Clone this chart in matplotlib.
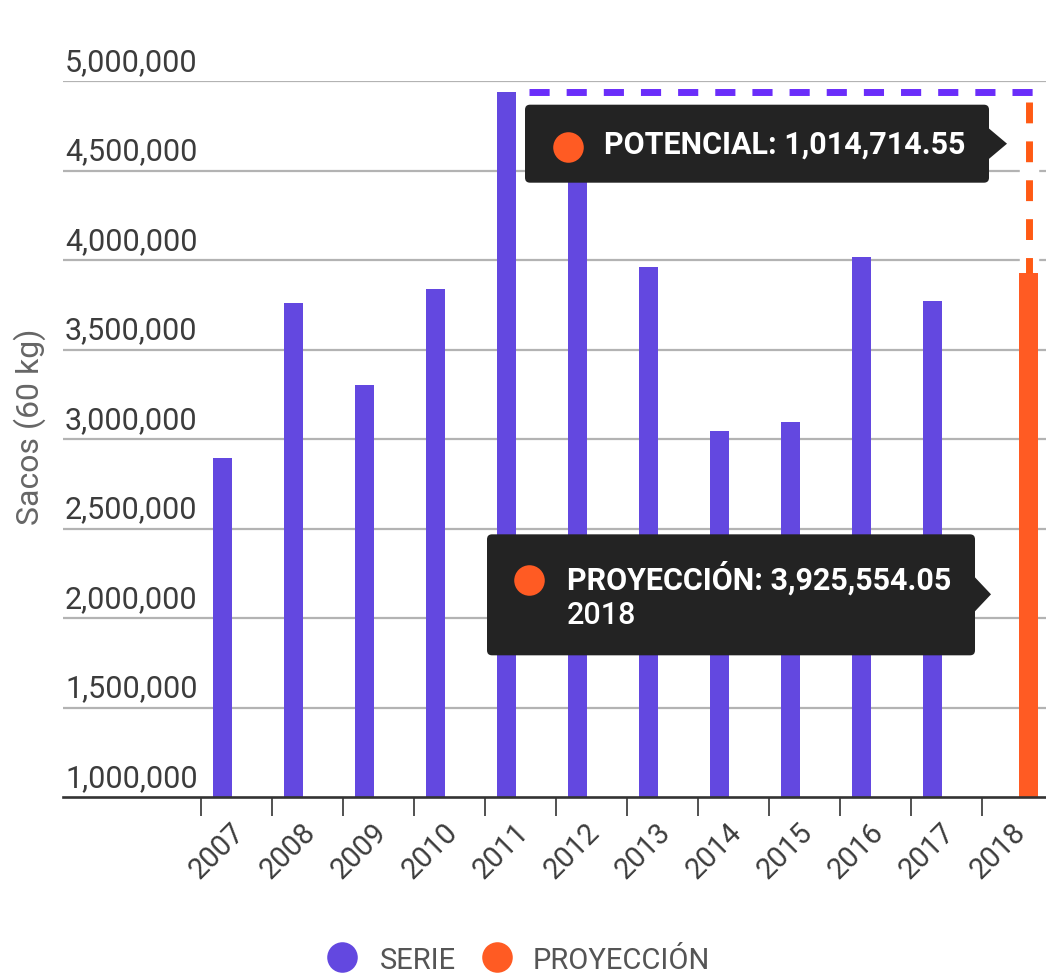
import numpy as np
import matplotlib
matplotlib.use("Agg")
import matplotlib.pyplot as plt
from matplotlib.patches import FancyBboxPatch, Polygon
from matplotlib.lines import Line2D
from matplotlib.transforms import IdentityTransform, blended_transform_factory, ScaledTranslation

# ---------------- data ----------------
years = ["2007", "2008", "2009", "2010", "2011", "2012",
         "2013", "2014", "2015", "2016", "2017", "2018"]
serie = [2892000, 3757000, 3300000, 3836000, 4940268.60, 4443000,
         3961000, 3042000, 3093000, 4018000, 3770000]          # 2007-2017
proyeccion = 3925554.05                                        # 2018
potencial = 1014714.55
y_ticks = [1000000, 1500000, 2000000, 2500000, 3000000,
           3500000, 4000000, 4500000, 5000000]
legend_labels = ["SERIE", "PROYECCIÓN"]
y_title = "Sacos (60 kg)"

# ---------------- style ----------------
W, H, DPI = 1046, 976, 100
C_SERIE = "#6348E0"
C_PROY = "#FF5B23"
C_DASH_P = "#6A2DFA"
C_DASH_O = "#FF5A14"
C_TIP = "#232323"
FONT = "Roboto"

plt.rcParams["font.family"] = [FONT, "DejaVu Sans"]

fig = plt.figure(figsize=(W / DPI, H / DPI), dpi=DPI)
fig.patch.set_facecolor("white")

# plot area (extends past the right edge of the canvas)
left_px, right_px, top_px, bottom_px = 63, 1060, 81, 797
ax = fig.add_axes([left_px / W, 1 - bottom_px / H,
                   (right_px - left_px) / W, (bottom_px - top_px) / H])
ax.set_facecolor("none")

x = np.arange(len(years))
band0 = -0.5
xl = band0 - (201.5 - left_px) / 71.0
xr = band0 + (right_px - 201.5) / 71.0
ax.set_xlim(xl, xr)
ax.set_ylim(y_ticks[0], y_ticks[-1])

# bars
serie_off, proy_off = -0.204, 0.148
ax.bar(x[:len(serie)] + serie_off, serie, width=0.268, bottom=0,
       color=C_SERIE, zorder=3)
ax.bar(x[-1] + proy_off, proyeccion, width=0.28, color=C_PROY, zorder=3)

# gridlines
for v in y_ticks[1:]:
    ax.axhline(v, color="#b3b3b3", lw=1.6, zorder=1)

# potential reference lines
top_val = proyeccion + potencial
ax.plot([x[4] + 0.11, xr], [top_val, top_val], color=C_DASH_P, lw=5.0,
        dashes=(2.9, 2.45), solid_capstyle="butt", dash_capstyle="butt", zorder=4)
ax.plot([x[-1] + proy_off] * 2, [top_val, proyeccion], color="white", lw=14,
        solid_capstyle="butt", zorder=2)
ax.plot([x[-1] + proy_off] * 2, [top_val - 60000, proyeccion], color=C_DASH_O, lw=5.0,
        dashes=(3.0, 2.6), dash_capstyle="butt", zorder=4)

# axes decoration
for s in ["top", "right", "left"]:
    ax.spines[s].set_visible(False)
ax.spines["bottom"].set_color("#333333")
ax.spines["bottom"].set_linewidth(1.9)
ax.spines["bottom"].set_zorder(5)

ax.set_yticks([])
ax.set_xticks(x + 0.19)
ax.set_xticklabels(years, rotation=45, ha="right", rotation_mode="default",
                   fontsize=21, color="#3c3c3c")
ax.tick_params(axis="x", length=0, pad=15)
ax.set_xticks(x - 0.5, minor=True)
ax.tick_params(axis="x", which="minor", length=14, width=1.2, color="#333333")

# y tick labels sitting above each gridline
ytrans = blended_transform_factory(ax.transAxes, ax.transData) + \
    ScaledTranslation(2 / DPI, 10 / DPI, fig.dpi_scale_trans)
for v in y_ticks:
    ax.text(0, v, f"{v:,.0f}", transform=ytrans, ha="left", va="baseline",
            fontsize=22, color="#3c3c3c", zorder=6)

fig.text(30 / W, 1 - 427 / H, y_title, rotation=90, ha="center", va="center",
         fontsize=23, color="#666666")

# ---------------- tooltips ----------------
ident = IdentityTransform()


def P(px, py):
    return (px, H - py)


def tooltip(box, tip, base_half, dot, lines):
    (x0, y0, x1, y1) = box
    fig.patches.append(FancyBboxPatch(P(x0, y1), x1 - x0, y1 - y0,
                                      boxstyle="round,pad=0,rounding_size=5",
                                      fc=C_TIP, ec="none", transform=ident,
                                      zorder=20, figure=fig))
    tx, ty = tip
    fig.patches.append(Polygon([P(x1 - 1, ty - base_half), P(tx, ty),
                                P(x1 - 1, ty + base_half)], closed=True,
                               fc=C_TIP, ec="none", transform=ident, zorder=20,
                               figure=fig))
    fig.add_artist(Line2D([dot[0]], [H - dot[1]], marker="o", ms=22,
                          color=C_PROY, mec="none", transform=ident, zorder=21))
    for (lx, ly, s, w) in lines:
        fig.text(lx / W, 1 - ly / H, s, ha="left", va="center", fontsize=22,
                 fontweight=w, color="white", zorder=22)


# anchor points in pixel space, derived from the data
fig.canvas.draw()
ax_x, ax_top = ax.transData.transform((x[-1] + proy_off, top_val))
_, ax_proj = ax.transData.transform((x[-1] + proy_off, proyeccion))
tip1 = (ax_x - 21.5, (H - ax_top) + 52)
tip2 = (ax_x - 37.5, (H - ax_proj) + 321)

tooltip((tip1[0] - 482, tip1[1] - 39, tip1[0] - 18, tip1[1] + 39), tip1, 16,
        (tip1[0] - 439, tip1[1] + 3),
        [(tip1[0] - 403, tip1[1] + 1, f"POTENCIAL: {potencial:,.2f}", "bold")])

tooltip((tip2[0] - 504, tip2[1] - 60, tip2[0] - 16, tip2[1] + 61), tip2, 18,
        (tip2[0] - 462, tip2[1] - 14),
        [(tip2[0] - 424, tip2[1] - 16, f"PROYECCIÓN: {proyeccion:,.2f}", "bold"),
         (tip2[0] - 424, tip2[1] + 21, years[-1], "medium")])

# ---------------- legend ----------------
colors = [C_SERIE, C_PROY]
dot_x = [342, 497]
text_x = [380, 533]
for lab, c, dx, tx in zip(legend_labels, colors, dot_x, text_x):
    fig.add_artist(Line2D([dx], [H - 957], marker="o", ms=22, color=c,
                          mec="none", transform=ident))
    fig.text(tx / W, 1 - 969 / H, lab, ha="left", va="baseline", fontsize=21,
             color="#555555")

fig.savefig("out.png", dpi=DPI, facecolor="white")
